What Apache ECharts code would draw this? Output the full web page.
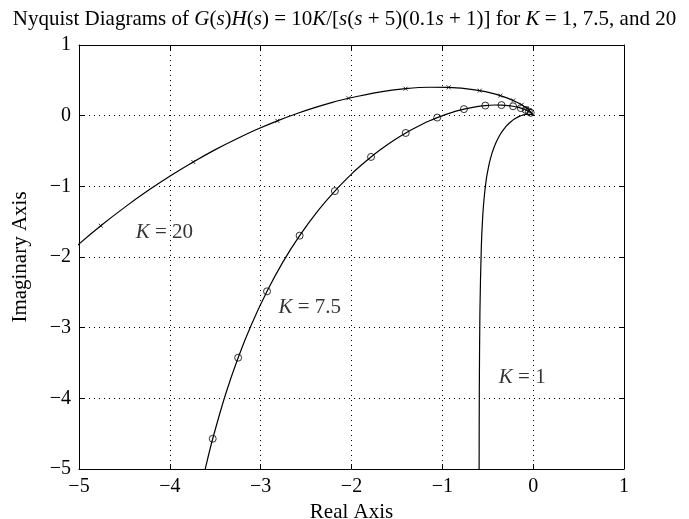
<!DOCTYPE html>
<html><head><meta charset="utf-8">
<script src="https://cdn.jsdelivr.net/npm/echarts@6/dist/echarts.min.js"></script>
<style>html,body{margin:0;padding:0;background:#fff}#c{width:689px;height:519px}</style>
</head><body><div id="c"></div>
<script>
// Tick values
const xTicks = [-5, -4, -3, -2, -1, 0, 1];
const yTicks = [-5, -4, -3, -2, -1, 0, 1];

// Curve K = 1  [real, imag]
const curveK1 = [
  [-0.597, -6.63], [-0.595, -4.94], [-0.593, -3.93], [-0.586, -2.76], [-0.571, -1.87],
  [-0.556, -1.436], [-0.538, -1.14], [-0.515, -0.891], [-0.497, -0.763], [-0.480, -0.656],
  [-0.452, -0.527], [-0.433, -0.457], [-0.405, -0.369], [-0.368, -0.277], [-0.343, -0.226],
  [-0.315, -0.179], [-0.291, -0.142], [-0.265, -0.108], [-0.238, -0.078], [-0.211, -0.052],
  [-0.187, -0.033], [-0.164, -0.017], [-0.141, -0.004], [-0.120, 0.006], [-0.102, 0.012],
  [-0.085, 0.017], [-0.070, 0.019], [-0.057, 0.020], [-0.046, 0.020], [-0.036, 0.019],
  [-0.029, 0.018], [-0.023, 0.016], [-0.018, 0.014], [-0.011, 0.011], [-0.006, 0.008],
  [-0.004, 0.005], [-0.002, 0.004], [-0.001, 0.002], [0.0, 0.001]
];

// Curve K = 7.5
const curveK75 = [
  [-3.664, -5.302], [-3.596, -4.922], [-3.528, -4.572], [-3.389, -3.953], [-3.248, -3.425],
  [-3.106, -2.969], [-2.930, -2.486], [-2.759, -2.079], [-2.571, -1.698], [-2.366, -1.340],
  [-2.183, -1.067], [-1.984, -0.807], [-1.877, -0.683], [-1.785, -0.584], [-1.683, -0.483],
  [-1.586, -0.394], [-1.494, -0.316], [-1.403, -0.245], [-1.314, -0.182], [-1.227, -0.125],
  [-1.140, -0.073], [-1.056, -0.027], [-0.975, 0.012], [-0.899, 0.044], [-0.829, 0.071],
  [-0.762, 0.093], [-0.636, 0.125], [-0.527, 0.143], [-0.427, 0.151], [-0.349, 0.150],
  [-0.273, 0.143], [-0.221, 0.133], [-0.172, 0.120], [-0.136, 0.107], [-0.106, 0.093],
  [-0.082, 0.081], [-0.048, 0.058], [-0.027, 0.040], [-0.015, 0.027], [-0.007, 0.015],
  [-0.002, 0.006]
];
const markersK75 = [
  [-3.528, -4.572], [-3.248, -3.425], [-2.930, -2.486], [-2.571, -1.698], [-2.183, -1.067],
  [-1.785, -0.584], [-1.403, -0.245], [-1.056, -0.027], [-0.762, 0.093], [-0.527, 0.143],
  [-0.349, 0.150], [-0.221, 0.133], [-0.136, 0.107], [-0.082, 0.081], [-0.048, 0.058],
  [-0.027, 0.040]
];

// Curve K = 20
const curveK20 = [
  [-5.290, -2.153], [-5.005, -1.822], [-4.760, -1.558], [-4.487, -1.287], [-4.228, -1.050],
  [-3.984, -0.843], [-3.742, -0.655], [-3.505, -0.484], [-3.273, -0.333], [-3.039, -0.193],
  [-2.816, -0.073], [-2.600, 0.031], [-2.397, 0.118], [-2.210, 0.189], [-2.032, 0.247],
  [-1.696, 0.334], [-1.405, 0.382], [-1.139, 0.402], [-0.930, 0.400], [-0.728, 0.380],
  [-0.588, 0.354], [-0.459, 0.319], [-0.362, 0.284], [-0.282, 0.249], [-0.219, 0.215],
  [-0.127, 0.154], [-0.073, 0.107], [-0.041, 0.072], [-0.018, 0.041], [-0.005, 0.015]
];
const markersK20 = [
  [-4.760, -1.558], [-3.742, -0.655], [-2.816, -0.073], [-2.032, 0.247], [-1.405, 0.382],
  [-0.930, 0.400], [-0.588, 0.354], [-0.362, 0.284], [-0.219, 0.215], [-0.127, 0.154],
  [-0.073, 0.107], [-0.041, 0.072]
];

// Curve annotations [x, y, text]
const annotations = [
  [-4.06, -1.66, '{i|K} = 20'],
  [-2.46, -2.72, '{i|K} = 7.5'],
  [-0.12, -3.70, '{i|K} = 1']
];

const FONT = '"Liberation Serif", "Times New Roman", serif';
const minus = v => String(v).replace('-', '\u2212');

const baseAxis = (ticks) => ({
  type: 'value',
  min: ticks[0],
  max: ticks[ticks.length - 1],
  interval: ticks[1] - ticks[0]
});

const chart = echarts.init(document.getElementById('c'), null, { renderer: 'canvas' });
chart.setOption({
  animation: false,
  backgroundColor: '#fff',
  title: {
    text: 'Nyquist Diagrams of {i|G}({i|s}){i|H}({i|s}) = 10{i|K}/[{i|s}({i|s} + 5)(0.1{i|s} + 1)] for {i|K} = 1, 7.5, and 20',
    left: 'center',
    top: 4,
    textStyle: { fontFamily: FONT, fontSize: 21, fontWeight: 'normal', color: '#000',
      rich: { i: { fontStyle: 'italic', fontFamily: FONT, fontSize: 21, color: '#000' } } }
  },
  grid: { left: 79, right: 65, top: 45, bottom: 50, containLabel: false, outerBoundsMode: 'none' },
  xAxis: [
    Object.assign(baseAxis(xTicks), {
      position: 'bottom',
      name: 'Real Axis', nameLocation: 'middle', nameGap: 30,
      nameTextStyle: { fontFamily: FONT, fontSize: 21, color: '#000' },
      axisLine: { show: true, onZero: false, lineStyle: { color: '#000', width: 1 } },
      axisTick: { show: true, inside: true, length: 5, lineStyle: { color: '#000' } },
      axisLabel: { color: '#000', fontFamily: FONT, fontSize: 20, margin: 8, formatter: minus },
      splitLine: { show: true, lineStyle: { type: [1, 4], color: '#000', width: 1 } }
    }),
    Object.assign(baseAxis(xTicks), {
      position: 'top',
      axisLine: { show: true, onZero: false, lineStyle: { color: '#000', width: 1 } },
      axisTick: { show: true, inside: true, length: 5, lineStyle: { color: '#000' } },
      axisLabel: { show: false },
      splitLine: { show: false }
    })
  ],
  yAxis: [
    Object.assign(baseAxis(yTicks), {
      position: 'left',
      name: 'Imaginary Axis', nameLocation: 'middle', nameGap: 48,
      nameTextStyle: { fontFamily: FONT, fontSize: 21, color: '#000' },
      axisLine: { show: true, onZero: false, lineStyle: { color: '#000', width: 1 } },
      axisTick: { show: true, inside: true, length: 5, lineStyle: { color: '#000' } },
      axisLabel: { color: '#000', fontFamily: FONT, fontSize: 20, margin: 8, formatter: minus },
      splitLine: { show: true, lineStyle: { type: [1, 4], color: '#000', width: 1 } }
    }),
    Object.assign(baseAxis(yTicks), {
      position: 'right',
      axisLine: { show: true, onZero: false, lineStyle: { color: '#000', width: 1 } },
      axisTick: { show: true, inside: true, length: 5, lineStyle: { color: '#000' } },
      axisLabel: { show: false },
      splitLine: { show: false }
    })
  ],
  series: [
    { type: 'line', data: curveK1, showSymbol: false, smooth: 0.3, clip: true,
      lineStyle: { color: '#000', width: 1.2 }, silent: true },
    { type: 'line', data: curveK75, showSymbol: false, smooth: 0.3, clip: true,
      lineStyle: { color: '#000', width: 1.2 }, silent: true },
    { type: 'line', data: curveK20, showSymbol: false, smooth: 0.3, clip: true,
      lineStyle: { color: '#000', width: 1.2 }, silent: true },
    { type: 'scatter', data: markersK75, symbol: 'circle', symbolSize: 7, clip: true,
      itemStyle: { color: 'rgba(0,0,0,0)', borderColor: '#000', borderWidth: 1 }, silent: true, z: 5 },
    { type: 'scatter', data: markersK20, symbol: 'path://M0,0L10,10M10,0L0,10', symbolSize: 4, clip: true,
      itemStyle: { color: 'rgba(0,0,0,0)', borderColor: '#000', borderWidth: 1 }, silent: true, z: 5 },
    { type: 'scatter', data: annotations.map(a => ({ value: [a[0], a[1]], text: a[2] })),
      symbolSize: 0, silent: true,
      label: { show: true, position: 'inside', formatter: p => p.data.text,
        fontFamily: FONT, fontSize: 21, color: '#000',
        rich: { i: { fontStyle: 'italic', fontFamily: FONT, fontSize: 21, color: '#000' } } } }
  ]
});
</script>
</body></html>
